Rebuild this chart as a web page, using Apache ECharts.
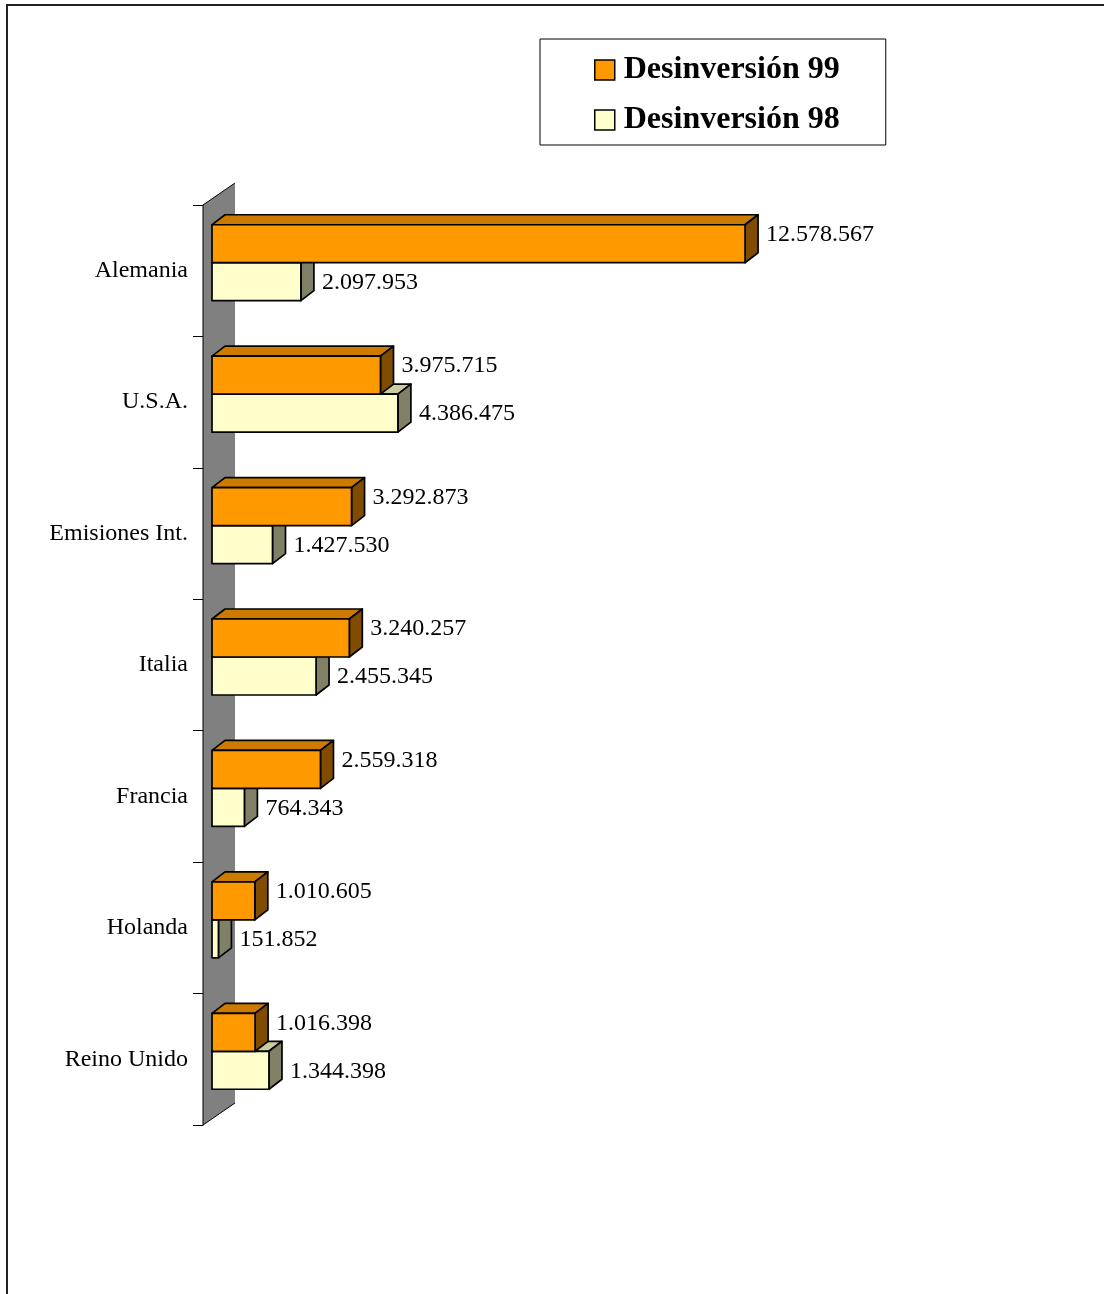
<!DOCTYPE html>
<html><head><meta charset="utf-8">
<script src="https://cdn.jsdelivr.net/npm/echarts@6/dist/echarts.min.js"></script>
<style>html,body{margin:0;padding:0;background:#fff}#c{width:1104px;height:1294px}</style>
</head><body><div id="c"></div>
<script>
const categories = ['Alemania','U.S.A.','Emisiones Int.','Italia','Francia','Holanda','Reino Unido'];
const des99 = [12578567, 3975715, 3292873, 3240257, 2559318, 1010605, 1016398];
const des98 = [2097953, 4386475, 1427530, 2455345, 764343, 151852, 1344398];
const seriesNames = ['Desinversión 99', 'Desinversión 98'];

function fmt(v){ return String(v).replace(/\B(?=(\d{3})+(?!\d))/g, '.'); }

const DX = 13, DY = -10, SHIFT_X = 9, SHIFT_Y = -8;
const FONT = 'Liberation Serif';

function barRender(upper, front, top, side){
  return function(params, api){
    const v = api.value(0), ci = api.value(1);
    const p0 = api.coord([0, ci]);
    const p1 = api.coord([v, ci]);
    const band = api.size([0, 1])[1];
    const h = band * 0.289;
    const x0 = p0[0] + SHIFT_X, x1 = p1[0] + SHIFT_X;
    const cy = p0[1] + SHIFT_Y;
    const y0 = upper ? cy - h : cy;
    const y1 = y0 + h;
    const ls = {stroke:'#000', lineWidth:1.7, lineJoin:'round'};
    return {type:'group', children:[
      {type:'polygon', shape:{points:[[x0,y0],[x1,y0],[x1+DX,y0+DY],[x0+DX,y0+DY]]}, style:Object.assign({fill:top}, ls)},
      {type:'polygon', shape:{points:[[x1,y0],[x1+DX,y0+DY],[x1+DX,y1+DY],[x1,y1]]}, style:Object.assign({fill:side}, ls)},
      {type:'rect', shape:{x:x0, y:y0, width:x1-x0, height:h}, style:Object.assign({fill:front}, ls)},
      {type:'text', x: x1 + DX + 8, y: upper ? (y0 + y1)/2 - 9 : (y0 + y1)/2 + 1,
        style:{text: fmt(v), fontSize:24, fontFamily:FONT, fill:'#000', align:'left', verticalAlign:'middle'}}
    ]};
  };
}

function wallRender(params, api){
  const cs = params.coordSys;
  const x = cs.x, y = cs.y, h = cs.height, dx = 32, dy = -22;
  return {type:'group', children:[
    {type:'polygon', shape:{points:[[x,y],[x+dx,y+dy],[x+dx,y+h+dy],[x,y+h]]}, style:{fill:'#808080', stroke:null}},
    {type:'polyline', shape:{points:[[x+dx,y+dy],[x,y],[x,y+h],[x+dx,y+h+dy]]}, style:{stroke:'#000', lineWidth:1, fill:null}}
  ]};
}

const chart = echarts.init(document.getElementById('c'), null, {renderer:'canvas'});
chart.setOption({
  animation:false,
  backgroundColor:'#fff',
  graphic:[{type:'rect', z:100, silent:true, shape:{x:7, y:5, width:1200, height:1400}, style:{fill:null, stroke:'#222', lineWidth:2}}],
  legend:{
    data: seriesNames, orient:'vertical', left:540, top:39,
    padding:[15,46,9,54], itemGap:18, itemWidth:20, itemHeight:20, icon:'rect',
    borderColor:'#000', borderWidth:1,
    itemStyle:{borderColor:'#000', borderWidth:1.5},
    textStyle:{fontFamily:FONT, fontSize:32, fontWeight:'bold', color:'#000', lineHeight:32, padding:[0,0,0,4]}
  },
  grid:{left:203, top:205, width:593.3, height:920, containLabel:false},
  xAxis:{type:'value', min:0, max:14000000, show:false},
  yAxis:{type:'category', data:categories, inverse:true,
    axisLine:{show:true, lineStyle:{color:'#000'}},
    axisTick:{show:true, length:10, lineStyle:{color:'#000'}},
    axisLabel:{margin:15, fontSize:24, fontFamily:FONT, color:'#000'},
    splitLine:{show:false}
  },
  series:[
    {type:'custom', name:'wall', renderItem:wallRender, data:[[0,0]], clip:false, silent:true, z:1},
    {type:'custom', name:seriesNames[1], renderItem:barRender(false, '#FFFFCC', '#CCCCA3', '#808066'),
      itemStyle:{color:'#FFFFCC', borderColor:'#000', borderWidth:1},
      encode:{x:0, y:1}, data: des98.map((v,i)=>[v,i]), clip:false, z:2},
    {type:'custom', name:seriesNames[0], renderItem:barRender(true, '#FF9900', '#CC7A00', '#804C00'),
      itemStyle:{color:'#FF9900', borderColor:'#000', borderWidth:1},
      encode:{x:0, y:1}, data: des99.map((v,i)=>[v,i]), clip:false, z:3}
  ]
});
</script></body></html>
